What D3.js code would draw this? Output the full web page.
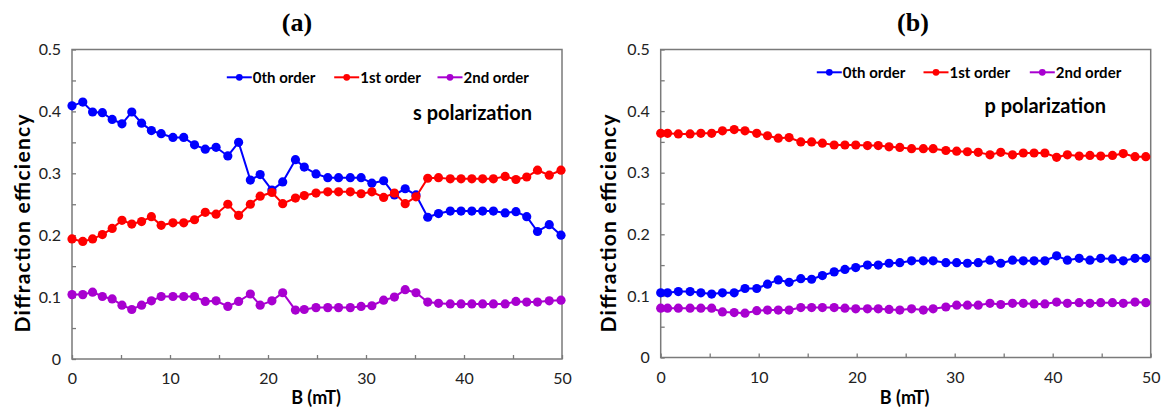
<!DOCTYPE html>
<html><head><meta charset="utf-8">
<script src="https://cdn.jsdelivr.net/npm/d3@7"></script>
<style>body{margin:0;background:#fff} svg{display:block}</style>
</head><body>
<svg id="c" width="1163" height="410"></svg>
<script>
// ---------- data ----------
const seriesNames = ["0th order", "1st order", "2nd order"];
const xTickValues = [0, 10, 20, 30, 40, 50];
const yTickValues = [0, 0.1, 0.2, 0.3, 0.4, 0.5];

// panel (a): s polarization
const bFieldA = [0,1.1,2.1,3.1,4.1,5.1,6.1,7.1,8.1,9.1,10.3,11.4,12.5,13.6,14.7,15.9,17.0,18.2,19.2,20.4,21.5,22.8,23.7,24.9,26.1,27.2,28.4,29.5,30.6,31.8,32.9,34.0,35.1,36.3,37.4,38.6,39.7,40.8,41.9,43.0,44.2,45.3,46.4,47.5,48.7,49.9];
const order0A = [0.409,0.415,0.399,0.398,0.387,0.380,0.399,0.381,0.369,0.364,0.358,0.358,0.346,0.339,0.342,0.328,0.350,0.289,0.298,0.273,0.286,0.322,0.310,0.299,0.293,0.293,0.293,0.293,0.284,0.288,0.265,0.275,0.265,0.229,0.235,0.239,0.239,0.239,0.239,0.239,0.236,0.238,0.230,0.206,0.217,0.200];
const order1A = [0.194,0.190,0.194,0.201,0.211,0.224,0.218,0.222,0.230,0.216,0.220,0.220,0.225,0.237,0.234,0.250,0.232,0.250,0.263,0.269,0.251,0.260,0.264,0.268,0.270,0.270,0.270,0.267,0.270,0.261,0.268,0.251,0.262,0.292,0.293,0.291,0.291,0.291,0.291,0.291,0.295,0.290,0.294,0.305,0.297,0.305];
const order2A = [0.104,0.104,0.108,0.101,0.097,0.087,0.080,0.087,0.094,0.101,0.101,0.101,0.101,0.093,0.094,0.085,0.093,0.105,0.087,0.094,0.107,0.079,0.080,0.083,0.083,0.083,0.083,0.085,0.086,0.095,0.100,0.112,0.107,0.092,0.090,0.089,0.089,0.089,0.089,0.089,0.089,0.093,0.092,0.092,0.094,0.095];

// panel (b): p polarization
const bFieldB = [0,0.7,1.8,3.0,4.1,5.2,6.3,7.5,8.6,9.8,10.9,12.0,13.1,14.3,15.4,16.5,17.7,18.8,19.9,21.1,22.2,23.3,24.4,25.6,26.8,27.8,29.1,30.2,31.3,32.4,33.6,34.7,35.9,37.0,38.1,39.2,40.4,41.5,42.7,43.8,44.9,46.1,47.2,48.4,49.5];
const order0B = [0.105,0.105,0.107,0.107,0.105,0.103,0.105,0.105,0.112,0.112,0.119,0.126,0.122,0.128,0.127,0.133,0.139,0.143,0.146,0.150,0.150,0.153,0.154,0.157,0.157,0.157,0.154,0.154,0.153,0.154,0.158,0.153,0.158,0.157,0.157,0.157,0.165,0.158,0.161,0.158,0.161,0.160,0.157,0.161,0.161];
const order1B = [0.364,0.364,0.363,0.363,0.364,0.364,0.368,0.370,0.368,0.364,0.360,0.356,0.357,0.350,0.350,0.348,0.345,0.345,0.345,0.344,0.344,0.342,0.341,0.339,0.339,0.339,0.336,0.335,0.334,0.333,0.329,0.333,0.329,0.332,0.332,0.332,0.325,0.329,0.327,0.328,0.327,0.328,0.331,0.326,0.326];
const order2B = [0.080,0.080,0.080,0.080,0.080,0.080,0.074,0.073,0.072,0.076,0.077,0.077,0.077,0.081,0.081,0.081,0.081,0.080,0.079,0.079,0.079,0.078,0.077,0.079,0.077,0.079,0.082,0.085,0.085,0.085,0.088,0.086,0.088,0.088,0.087,0.087,0.090,0.088,0.089,0.088,0.089,0.089,0.088,0.090,0.089];

// ---------- styles / layout ----------
const colors = ["#0000ff", "#ff0000", "#a800d0"];
const frameColor = "#7a7a7a";
const FONT = "Lato, 'Open Sans', sans-serif";

const panels = [
  { title: "(a)", titleX: 297, note: "s polarization", noteRight: 532, noteY: 120,
    x0: 72, x1: 562, y0: 359, y1: 49.5, ylabX: 23, legendY: 77.3, legendX: [239.3, 346.7, 450],
    b: bFieldA, series: [order0A, order1A, order2A] },
  { title: "(b)", titleX: 913, note: "p polarization", noteRight: 1106, noteY: 113,
    x0: 660.7, x1: 1150.7, y0: 357.5, y1: 49.5, ylabX: 609, legendY: 72.3, legendX: [829.3, 936, 1042.3],
    b: bFieldB, series: [order0B, order1B, order2B] }
];

const svg = d3.select("#c");

panels.forEach(p => {
  const g = svg.append("g");
  const x = d3.scaleLinear().domain([0, 50]).range([p.x0, p.x1]);
  const y = d3.scaleLinear().domain([0, 0.5]).range([p.y0, p.y1]);

  // title
  g.append("text").attr("x", p.titleX).attr("y", 31).attr("text-anchor", "middle")
    .style("font-family", "'Liberation Serif', 'Times New Roman', serif").style("font-weight", "bold")
    .style("font-size", "26px").attr("fill", "#000").text(p.title);

  // minor/major ticks (inward)
  const yTickAxis = d3.axisLeft(y).tickValues(d3.range(0, 0.5001, 0.05)).tickSize(-4).tickFormat("");
  const gy = g.append("g").attr("transform", `translate(${p.x0},0)`).call(yTickAxis);
  const xTickAxis = d3.axisBottom(x).tickValues(d3.range(0, 50.001, 5)).tickSize(-4).tickFormat("");
  const gx = g.append("g").attr("transform", `translate(0,${p.y0})`).call(xTickAxis);
  [gy, gx].forEach(a => {
    a.select(".domain").remove();
    a.selectAll("line").attr("stroke", frameColor).attr("stroke-width", 1.3);
  });

  // labels
  const yLab = d3.axisLeft(y).tickValues(yTickValues).tickSize(0).tickPadding(11)
    .tickFormat(d => d === 0 ? "0" : d3.format(".1f")(d));
  const gyl = g.append("g").attr("transform", `translate(${p.x0},0)`).call(yLab);
  const xLab = d3.axisBottom(x).tickValues(xTickValues).tickSize(0).tickPadding(14).tickFormat(d3.format("d"));
  const gxl = g.append("g").attr("transform", `translate(0,${p.y0})`).call(xLab);
  [gyl, gxl].forEach(a => {
    a.select(".domain").remove();
    a.selectAll("text").style("font-family", FONT).style("font-size", "16px").attr("fill", "#222");
  });

  // frame
  g.append("rect").attr("x", p.x0).attr("y", p.y1).attr("width", p.x1 - p.x0).attr("height", p.y0 - p.y1)
    .attr("fill", "none").attr("stroke", frameColor).attr("stroke-width", 1.5);

  // axis titles
  g.append("text").attr("x", (p.x0 + p.x1) / 2 - 1).attr("y", 404).attr("text-anchor", "middle")
    .style("font-family", FONT).style("font-weight", "bold").style("font-size", "18px").attr("fill", "#000")
    .text("B (mT)");
  g.append("text").attr("transform", `translate(${p.ylabX + 7},223.5) rotate(-90)`).attr("text-anchor", "middle")
    .style("font-family", FONT).style("font-weight", "bold").style("font-size", "21px").attr("fill", "#000")
    .attr("textLength", 218).attr("lengthAdjust", "spacing")
    .text("Diffraction efficiency");

  // series
  const line = d3.line().x(d => x(d[0])).y(d => y(d[1]));
  p.series.forEach((vals, i) => {
    const pts = p.b.map((bv, k) => [bv, vals[k]]);
    g.append("path").datum(pts).attr("d", line).attr("fill", "none")
      .attr("stroke", colors[i]).attr("stroke-width", 2);
    g.selectAll(null).data(pts).enter().append("circle")
      .attr("cx", d => x(d[0])).attr("cy", d => y(d[1])).attr("r", 4.6).attr("fill", colors[i]);
  });

  // legend
  seriesNames.forEach((name, i) => {
    const cx = p.legendX[i];
    g.append("line").attr("x1", cx - 12.5).attr("x2", cx + 12.5).attr("y1", p.legendY).attr("y2", p.legendY)
      .attr("stroke", colors[i]).attr("stroke-width", 2);
    g.append("circle").attr("cx", cx).attr("cy", p.legendY).attr("r", 3.4).attr("fill", colors[i]);
    g.append("text").attr("x", cx + 13.5).attr("y", p.legendY + 5.5)
      .style("font-family", FONT).style("font-weight", "bold").style("font-size", "15px").attr("fill", "#000")
      .text(name);
  });

  // polarization note
  g.append("text").attr("x", p.noteRight).attr("y", p.noteY).attr("text-anchor", "end")
    .style("font-family", FONT).style("font-weight", "bold").style("font-size", "20px").attr("fill", "#000")
    .text(p.note);
});
</script>
</body></html>
